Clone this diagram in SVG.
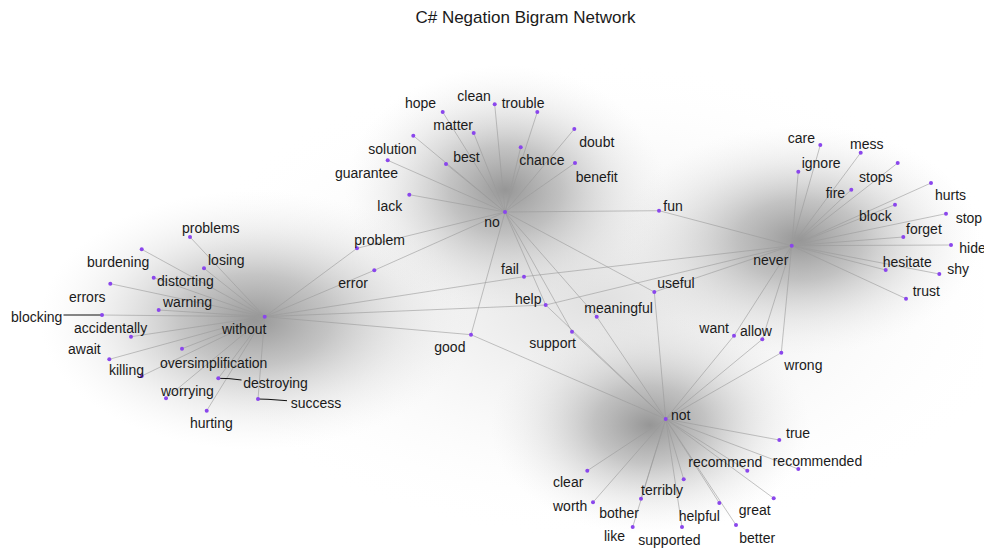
<svg xmlns="http://www.w3.org/2000/svg" width="984" height="548" viewBox="0 0 984 548">
  <defs>
    <radialGradient id="glow" cx="0.5" cy="0.5" r="0.5">
      <stop offset="0" stop-color="#7a7a7a" stop-opacity="0.78"/>
      <stop offset="0.35" stop-color="#969696" stop-opacity="0.55"/>
      <stop offset="0.7" stop-color="#c4c4c4" stop-opacity="0.25"/>
      <stop offset="1" stop-color="#e4e4e4" stop-opacity="0"/>
    </radialGradient>
    <radialGradient id="haze" cx="0.5" cy="0.5" r="0.5">
      <stop offset="0" stop-color="#d6d6d6" stop-opacity="0.75"/>
      <stop offset="1" stop-color="#ffffff" stop-opacity="0"/>
    </radialGradient>
  </defs>
  <style>
    .lbl { font-family: "Liberation Sans", Arial, sans-serif; font-size: 14px; fill: #1a1a1a; }
    .title { font-family: "Liberation Sans", Arial, sans-serif; font-size: 17px; fill: #1a1a1a; }
    .edge { stroke: #9a9a9a; stroke-width: 0.7; stroke-opacity: 0.85; fill: none; }
    .lead { stroke: #111; stroke-width: 1; fill: none; }
    .dot { fill: #8a46ec; }
  </style>

  <rect width="984" height="548" fill="#ffffff"/>

  <!-- density shading under the four clusters -->
  <g id="shading">
    <ellipse cx="600" cy="300" rx="430" ry="240" fill="url(#haze)"/>
    <ellipse cx="255" cy="320" rx="215" ry="130" fill="url(#glow)"/>
    <ellipse cx="505" cy="190" rx="160" ry="125" fill="url(#glow)"/>
    <ellipse cx="800" cy="240" rx="180" ry="115" fill="url(#glow)"/>
    <ellipse cx="650" cy="425" rx="160" ry="110" fill="url(#glow)"/>
  </g>

  <text class="title" x="525.5" y="23" text-anchor="middle">C# Negation Bigram Network</text>

  <!-- connectors -->
  <g id="edges">
    <!-- no -->
    <path class="edge" d="M505,212L442.7,112M505,212L494.7,104.3M505,212L537.3,112M505,212L473.7,133M505,212L574.3,129M505,212L413.3,135.7M505,212L446,164M505,212L520.7,147.3M505,212L575,163M505,212L387.7,160.3M505,212L409.3,194.7M505,212L357,248.3M505,212L374.3,270.3M505,212L659,210.7M505,212L471,334.7M505,212L545.7,305M505,212L572,331.7M505,212L596.7,316.7M505,212L654.3,292"/>
    <!-- never -->
    <path class="edge" d="M791.7,245.7L659,210.7M791.7,245.7L524,276.7M791.7,245.7L545.7,305M791.7,245.7L654.3,292M791.7,245.7L734,335.7M791.7,245.7L762.3,339.3M791.7,245.7L781.3,352.7M791.7,245.7L820.3,145M791.7,245.7L860.7,152.7M791.7,245.7L798.3,171.7M791.7,245.7L897.7,163M791.7,245.7L851.3,189.7M791.7,245.7L931,183M791.7,245.7L895,204.7M791.7,245.7L946,213.7M791.7,245.7L903.3,237M791.7,245.7L951,245M791.7,245.7L885.7,270M791.7,245.7L939.3,274M791.7,245.7L906,298.7"/>
    <!-- without -->
    <path class="edge" d="M264.7,316.7L190,237M264.7,316.7L204,268.3M264.7,316.7L141.7,249.3M264.7,316.7L153.7,277.7M264.7,316.7L110.3,283.7M264.7,316.7L158.7,310M264.7,316.7L102,315M264.7,316.7L131,336.7M264.7,316.7L109.3,359.3M264.7,316.7L141.7,376M264.7,316.7L182,348.7M264.7,316.7L218.3,378.3M264.7,316.7L258,399M264.7,316.7L166,398.3M264.7,316.7L206.7,410.7M264.7,316.7L357,248.3M264.7,316.7L374.3,270.3M264.7,316.7L524,276.7M264.7,316.7L545.7,305M264.7,316.7L471,334.7"/>
    <!-- not -->
    <path class="edge" d="M665.7,419L471,334.7M665.7,419L545.7,305M665.7,419L572,331.7M665.7,419L596.7,316.7M665.7,419L654.3,292M665.7,419L734,335.7M665.7,419L762.3,339.3M665.7,419L781.3,352.7M665.7,419L779.3,440M665.7,419L747.3,470.7M665.7,419L798.3,469M665.7,419L587.3,470.7M665.7,419L593,502.3M665.7,419L683.7,479.3M665.7,419L641,498.7M665.7,419L632.7,527M665.7,419L682,527M665.7,419L719.3,503M665.7,419L773.7,498.3M665.7,419L736,525"/>
    <!-- label leaders -->
    <path class="lead" d="M63.5,315L102,315"/>
    <path class="lead" d="M218.3,378.3L229,378.6L241.5,380"/>
    <path class="lead" d="M258,399L268,399.3L287,400.7"/>
  </g>

  <!-- hubs -->
  <g id="n-no"><circle class="dot" cx="505" cy="212" r="2"/><text class="lbl" x="484.3" y="227">no</text></g>
  <g id="n-never"><circle class="dot" cx="791.7" cy="245.7" r="2"/><text class="lbl" x="753.3" y="265">never</text></g>
  <g id="n-without"><circle class="dot" cx="264.7" cy="316.7" r="2"/><text class="lbl" x="222" y="334">without</text></g>
  <g id="n-not"><circle class="dot" cx="665.7" cy="419" r="2"/><text class="lbl" x="671" y="420">not</text></g>

  <!-- words following "without" -->
  <g id="n-problems"><circle class="dot" cx="190" cy="237" r="2"/><text class="lbl" x="182" y="233">problems</text></g>
  <g id="n-losing"><circle class="dot" cx="204" cy="268.3" r="2"/><text class="lbl" x="208" y="265">losing</text></g>
  <g id="n-burdening"><circle class="dot" cx="141.7" cy="249.3" r="2"/><text class="lbl" x="87" y="266.7">burdening</text></g>
  <g id="n-distorting"><circle class="dot" cx="153.7" cy="277.7" r="2"/><text class="lbl" x="157" y="286">distorting</text></g>
  <g id="n-errors"><circle class="dot" cx="110.3" cy="283.7" r="2"/><text class="lbl" x="69" y="301.7">errors</text></g>
  <g id="n-warning"><circle class="dot" cx="158.7" cy="310" r="2"/><text class="lbl" x="163" y="306.7">warning</text></g>
  <g id="n-blocking"><circle class="dot" cx="102" cy="315" r="2"/><text class="lbl" x="11" y="322">blocking</text></g>
  <g id="n-accidentally"><circle class="dot" cx="131" cy="336.7" r="2"/><text class="lbl" x="74" y="333.3">accidentally</text></g>
  <g id="n-await"><circle class="dot" cx="109.3" cy="359.3" r="2"/><text class="lbl" x="68" y="354.3">await</text></g>
  <g id="n-killing"><circle class="dot" cx="141.7" cy="376" r="2"/><text class="lbl" x="109" y="375">killing</text></g>
  <g id="n-oversimplification"><circle class="dot" cx="182" cy="348.7" r="2"/><text class="lbl" x="160" y="367.7">oversimplification</text></g>
  <g id="n-destroying"><circle class="dot" cx="218.3" cy="378.3" r="2"/><text class="lbl" x="243.3" y="388.3">destroying</text></g>
  <g id="n-success"><circle class="dot" cx="258" cy="399" r="2"/><text class="lbl" x="290.7" y="408.3">success</text></g>
  <g id="n-worrying"><circle class="dot" cx="166" cy="398.3" r="2"/><text class="lbl" x="161" y="395.7">worrying</text></g>
  <g id="n-hurting"><circle class="dot" cx="206.7" cy="410.7" r="2"/><text class="lbl" x="190" y="427.7">hurting</text></g>

  <!-- words following "no" -->
  <g id="n-hope"><circle class="dot" cx="442.7" cy="112" r="2"/><text class="lbl" x="405" y="108.3">hope</text></g>
  <g id="n-clean"><circle class="dot" cx="494.7" cy="104.3" r="2"/><text class="lbl" x="457.3" y="101">clean</text></g>
  <g id="n-trouble"><circle class="dot" cx="537.3" cy="112" r="2"/><text class="lbl" x="501.7" y="107.7">trouble</text></g>
  <g id="n-matter"><circle class="dot" cx="473.7" cy="133" r="2"/><text class="lbl" x="433.3" y="130">matter</text></g>
  <g id="n-doubt"><circle class="dot" cx="574.3" cy="129" r="2"/><text class="lbl" x="579.3" y="146.7">doubt</text></g>
  <g id="n-solution"><circle class="dot" cx="413.3" cy="135.7" r="2"/><text class="lbl" x="368.3" y="154.3">solution</text></g>
  <g id="n-best"><circle class="dot" cx="446" cy="164" r="2"/><text class="lbl" x="453.3" y="161.7">best</text></g>
  <g id="n-chance"><circle class="dot" cx="520.7" cy="147.3" r="2"/><text class="lbl" x="519.3" y="165">chance</text></g>
  <g id="n-benefit"><circle class="dot" cx="575" cy="163" r="2"/><text class="lbl" x="575.7" y="181.7">benefit</text></g>
  <g id="n-guarantee"><circle class="dot" cx="387.7" cy="160.3" r="2"/><text class="lbl" x="335" y="178.3">guarantee</text></g>
  <g id="n-lack"><circle class="dot" cx="409.3" cy="194.7" r="2"/><text class="lbl" x="377.3" y="211">lack</text></g>
  <g id="n-problem"><circle class="dot" cx="357" cy="248.3" r="2"/><text class="lbl" x="354.3" y="245">problem</text></g>
  <g id="n-error"><circle class="dot" cx="374.3" cy="270.3" r="2"/><text class="lbl" x="338.3" y="288.3">error</text></g>
  <g id="n-fun"><circle class="dot" cx="659" cy="210.7" r="2"/><text class="lbl" x="663.3" y="211">fun</text></g>
  <g id="n-good"><circle class="dot" cx="471" cy="334.7" r="2"/><text class="lbl" x="434.3" y="352.3">good</text></g>

  <!-- words shared between hubs -->
  <g id="n-fail"><circle class="dot" cx="524" cy="276.7" r="2"/><text class="lbl" x="501" y="274.3">fail</text></g>
  <g id="n-help"><circle class="dot" cx="545.7" cy="305" r="2"/><text class="lbl" x="515" y="304">help</text></g>
  <g id="n-meaningful"><circle class="dot" cx="596.7" cy="316.7" r="2"/><text class="lbl" x="584.3" y="313.3">meaningful</text></g>
  <g id="n-support"><circle class="dot" cx="572" cy="331.7" r="2"/><text class="lbl" x="529.3" y="348.3">support</text></g>
  <g id="n-useful"><circle class="dot" cx="654.3" cy="292" r="2"/><text class="lbl" x="657.3" y="288.3">useful</text></g>
  <g id="n-want"><circle class="dot" cx="734" cy="335.7" r="2"/><text class="lbl" x="699.3" y="333.3">want</text></g>
  <g id="n-allow"><circle class="dot" cx="762.3" cy="339.3" r="2"/><text class="lbl" x="740" y="336">allow</text></g>
  <g id="n-wrong"><circle class="dot" cx="781.3" cy="352.7" r="2"/><text class="lbl" x="784.3" y="370">wrong</text></g>

  <!-- words following "never" -->
  <g id="n-care"><circle class="dot" cx="820.3" cy="145" r="2"/><text class="lbl" x="787.7" y="143.3">care</text></g>
  <g id="n-mess"><circle class="dot" cx="860.7" cy="152.7" r="2"/><text class="lbl" x="850" y="149.3">mess</text></g>
  <g id="n-ignore"><circle class="dot" cx="798.3" cy="171.7" r="2"/><text class="lbl" x="801.7" y="167.7">ignore</text></g>
  <g id="n-stops"><circle class="dot" cx="897.7" cy="163" r="2"/><text class="lbl" x="859" y="181.7">stops</text></g>
  <g id="n-fire"><circle class="dot" cx="851.3" cy="189.7" r="2"/><text class="lbl" x="825.7" y="198.3">fire</text></g>
  <g id="n-hurts"><circle class="dot" cx="931" cy="183" r="2"/><text class="lbl" x="935" y="199.7">hurts</text></g>
  <g id="n-block"><circle class="dot" cx="895" cy="204.7" r="2"/><text class="lbl" x="859" y="221.3">block</text></g>
  <g id="n-stop"><circle class="dot" cx="946" cy="213.7" r="2"/><text class="lbl" x="955.7" y="222.7">stop</text></g>
  <g id="n-forget"><circle class="dot" cx="903.3" cy="237" r="2"/><text class="lbl" x="906" y="233.7">forget</text></g>
  <g id="n-hide"><circle class="dot" cx="951" cy="245" r="2"/><text class="lbl" x="959.3" y="252.7">hide</text></g>
  <g id="n-hesitate"><circle class="dot" cx="885.7" cy="270" r="2"/><text class="lbl" x="882.7" y="267">hesitate</text></g>
  <g id="n-shy"><circle class="dot" cx="939.3" cy="274" r="2"/><text class="lbl" x="947.3" y="274.3">shy</text></g>
  <g id="n-trust"><circle class="dot" cx="906" cy="298.7" r="2"/><text class="lbl" x="912.7" y="296">trust</text></g>

  <!-- words following "not" -->
  <g id="n-true"><circle class="dot" cx="779.3" cy="440" r="2"/><text class="lbl" x="786" y="438">true</text></g>
  <g id="n-recommend"><circle class="dot" cx="747.3" cy="470.7" r="2"/><text class="lbl" x="688.3" y="467.3">recommend</text></g>
  <g id="n-recommended"><circle class="dot" cx="798.3" cy="469" r="2"/><text class="lbl" x="772.7" y="465.7">recommended</text></g>
  <g id="n-clear"><circle class="dot" cx="587.3" cy="470.7" r="2"/><text class="lbl" x="553" y="487.3">clear</text></g>
  <g id="n-worth"><circle class="dot" cx="593" cy="502.3" r="2"/><text class="lbl" x="553" y="510.7">worth</text></g>
  <g id="n-terribly"><circle class="dot" cx="683.7" cy="479.3" r="2"/><text class="lbl" x="641" y="495">terribly</text></g>
  <g id="n-bother"><circle class="dot" cx="641" cy="498.7" r="2"/><text class="lbl" x="599.3" y="517.7">bother</text></g>
  <g id="n-like"><circle class="dot" cx="632.7" cy="527" r="2"/><text class="lbl" x="604" y="540.7">like</text></g>
  <g id="n-supported"><circle class="dot" cx="682" cy="527" r="2"/><text class="lbl" x="638.3" y="545">supported</text></g>
  <g id="n-helpful"><circle class="dot" cx="719.3" cy="503" r="2"/><text class="lbl" x="678.7" y="521">helpful</text></g>
  <g id="n-great"><circle class="dot" cx="773.7" cy="498.3" r="2"/><text class="lbl" x="738.7" y="515">great</text></g>
  <g id="n-better"><circle class="dot" cx="736" cy="525" r="2"/><text class="lbl" x="739.3" y="543">better</text></g>
</svg>
